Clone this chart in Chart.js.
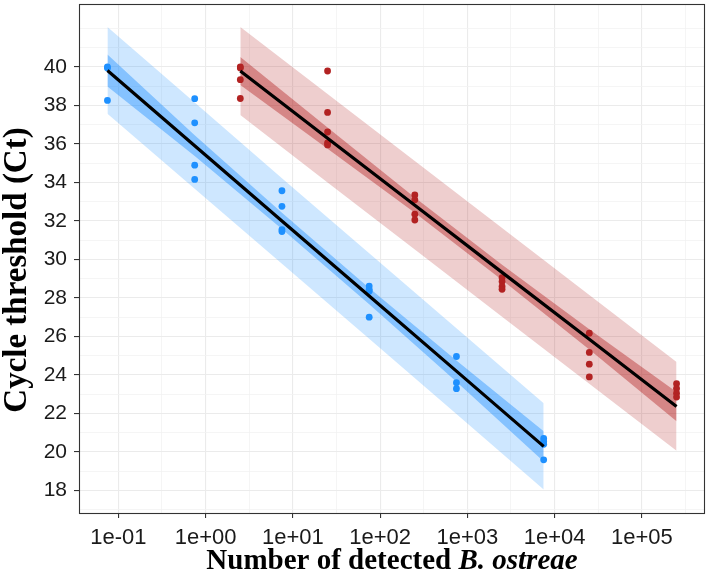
<!DOCTYPE html>
<html>
<head>
<meta charset="utf-8">
<script src="https://cdn.jsdelivr.net/npm/chart.js@4/dist/chart.umd.min.js"></script>
<style>
  body { margin: 0; background: #ffffff; }
</style>
</head>
<body>
<canvas id="chart" width="709" height="581"></canvas>
<script>
// concentrations used for the two standard curves
var blueConc = [0.075, 0.75, 7.5, 75, 750, 7500];
var redConc = [2.5, 25, 250, 2500, 25000, 250000];

// replicate Ct values (x, y pairs)
var blueX = [0.075, 0.075, 0.075, 0.75, 0.75, 0.75, 0.75, 7.5, 7.5, 7.5, 7.5,
  75, 75, 75, 75, 750, 750, 750, 7500, 7500, 7500, 7500];
var blueCt = [40.0, 39.95, 38.26, 38.35, 37.1, 34.9, 34.16, 33.57, 32.76, 31.55, 31.45,
  28.62, 28.45, 28.35, 27.0, 24.96, 23.6, 23.29, 20.7, 20.55, 20.4, 19.59];

var redX = [2.5, 2.5, 2.5, 2.5, 25, 25, 25, 25, 25, 250, 250, 250, 250,
  2500, 2500, 2500, 2500, 25000, 25000, 25000, 25000, 250000, 250000, 250000, 250000];
var redCt = [40.0, 39.95, 39.34, 38.36, 39.79, 37.64, 36.62, 36.05, 35.95, 33.35, 33.1, 32.35, 32.05,
  29.05, 28.85, 28.6, 28.45, 26.17, 25.17, 24.56, 23.9, 23.55, 23.3, 23.05, 22.85];

// fitted lines, confidence band, prediction band
var blueFit = [39.82, 35.91, 32.0, 28.1, 24.2, 20.29];
var blueCiHi = [40.65, 36.45, 32.42, 28.52, 24.75, 21.08];
var blueCiLo = [38.99, 35.37, 31.58, 27.68, 23.65, 19.50];
var bluePiHi = [42.07, 38.15, 34.22, 30.32, 26.43, 22.53];
var bluePiLo = [37.57, 33.67, 29.78, 25.88, 21.97, 18.05];

var redFit = [39.79, 36.30, 32.82, 29.33, 25.85, 22.36];
var redCiHi = [40.52, 36.85, 33.22, 29.73, 26.38, 23.12];
var redCiLo = [39.06, 35.75, 32.42, 28.93, 25.32, 21.60];
var redPiHi = [42.07, 38.6, 35.12, 31.63, 28.16, 24.68];
var redPiLo = [37.51, 34.0, 30.52, 27.03, 23.54, 20.06];

// axis ticks
var xMajor = [0.1, 1, 10, 100, 1000, 10000, 100000];
var xMinor = [0.316, 3.16, 31.6, 316, 3162, 31623, 316228];
var yMajor = [18, 20, 22, 24, 26, 28, 30, 32, 34, 36, 38, 40];
var yMinor = [17, 19, 21, 23, 25, 27, 29, 31, 33, 35, 37, 39, 41, 42];

function pairs(xs, ys) {
  var out = new Array();
  for (var i = 0; i < xs.length; i++) {
    out.push({x: xs[i], y: ys[i]});
  }
  return out;
}

function sciLabel(v) {
  var e = Math.round(Math.log10(v));
  var sign = e < 0 ? "-" : "+";
  var a = Math.abs(e);
  return "1e" + sign + (a < 10 ? "0" + a : "" + a);
}

function isMajorX(v) {
  return xMajor.indexOf(v) >= 0;
}

var BLUE = "#1E90FF";
var RED = "#B22222";

function band(data, fillTarget, color, order) {
  return {
    data: data,
    showLine: true,
    borderWidth: 0,
    borderColor: "rgba(0,0,0,0)",
    pointRadius: 0,
    backgroundColor: color,
    fill: fillTarget === null ? false : {target: fillTarget},
    order: order
  };
}

var datasets = [
  // 0,1 regression lines
  {data: pairs(blueConc, blueFit), showLine: true, borderColor: "#000000", borderWidth: 3.2, pointRadius: 0, order: 0},
  {data: pairs(redConc, redFit), showLine: true, borderColor: "#000000", borderWidth: 3.2, pointRadius: 0, order: 0},
  // 2,3 replicate points
  {data: pairs(blueX, blueCt), backgroundColor: BLUE, borderWidth: 0, pointRadius: 3.4, order: 1},
  {data: pairs(redX, redCt), backgroundColor: RED, borderWidth: 0, pointRadius: 3.4, order: 1},
  // 4,5 blue confidence band
  band(pairs(blueConc, blueCiHi), 5, "rgba(30,144,255,0.42)", 2),
  band(pairs(blueConc, blueCiLo), null, "rgba(0,0,0,0)", 2),
  // 6,7 blue prediction band
  band(pairs(blueConc, bluePiHi), 7, "rgba(30,144,255,0.22)", 3),
  band(pairs(blueConc, bluePiLo), null, "rgba(0,0,0,0)", 3),
  // 8,9 red confidence band
  band(pairs(redConc, redCiHi), 9, "rgba(178,34,34,0.42)", 2),
  band(pairs(redConc, redCiLo), null, "rgba(0,0,0,0)", 2),
  // 10,11 red prediction band
  band(pairs(redConc, redPiHi), 11, "rgba(178,34,34,0.22)", 3),
  band(pairs(redConc, redPiLo), null, "rgba(0,0,0,0)", 3)
];

// panel border + axis titles
var panelPlugin = {
  id: "panel",
  afterDraw: function(chart) {
    var ctx = chart.ctx;
    var a = chart.chartArea;
    ctx.save();
    ctx.strokeStyle = "#333333";
    ctx.lineWidth = 1.1;
    ctx.strokeRect(a.left + 0.5, a.top + 0.5, a.right - a.left - 1, a.bottom - a.top);

    // x title, bold with italic species name
    var part1 = "Number of detected ";
    var part2 = "B. ostreae";
    var f1 = "bold 29px 'Liberation Serif', 'Times New Roman', serif";
    var f2 = "italic bold 29px 'Liberation Serif', 'Times New Roman', serif";
    ctx.fillStyle = "#000000";
    ctx.textBaseline = "middle";
    ctx.font = f1;
    var w1 = ctx.measureText(part1).width;
    ctx.font = f2;
    var w2 = ctx.measureText(part2).width;
    var cx = (a.left + a.right) / 2;
    var x0 = cx - (w1 + w2) / 2;
    ctx.textAlign = "left";
    ctx.font = f1;
    ctx.fillText(part1, x0, 562);
    ctx.font = f2;
    ctx.fillText(part2, x0 + w1, 562);

    // y title
    ctx.translate(17, 270);
    ctx.rotate(-Math.PI / 2);
    ctx.textAlign = "center";
    ctx.font = "bold 33px 'Liberation Serif', 'Times New Roman', serif";
    ctx.fillText("Cycle threshold (Ct)", 0, 0);
    ctx.restore();
  }
};

new Chart(document.getElementById("chart"), {
  type: "scatter",
  data: {datasets: datasets},
  plugins: [panelPlugin],
  options: {
    responsive: false,
    animation: false,
    events: [],
    layout: {padding: {top: 1, right: 0, left: 0, bottom: 0}},
    plugins: {legend: {display: false}, tooltip: {enabled: false}},
    scales: {
      x: {
        type: "logarithmic",
        min: 0.0354,
        max: 529700,
        afterBuildTicks: function(scale) {
          scale.ticks = xMajor.concat(xMinor).sort(function(a, b) { return a - b; })
            .map(function(v) { return {value: v}; });
        },
        afterFit: function(scale) {
          scale.height = 68;
          scale.paddingLeft = 0;
          scale.paddingRight = 0;
        },
        border: {display: false},
        grid: {
          color: function(c) { return isMajorX(c.tick.value) ? "#EBEBEB" : "#F2F2F2"; },
          lineWidth: function(c) { return isMajorX(c.tick.value) ? 1.1 : 0.8; },
          tickColor: function(c) { return isMajorX(c.tick.value) ? "#333333" : "rgba(0,0,0,0)"; },
          tickLength: 5,
          tickWidth: 1.1
        },
        ticks: {
          autoSkip: false,
          maxRotation: 0,
          padding: 7,
          color: "#1a1a1a",
          font: {family: "'Liberation Sans', Arial, sans-serif", size: 22},
          callback: function(v) { return isMajorX(v) ? sciLabel(v) : ""; }
        }
      },
      y: {
        type: "linear",
        min: 16.83,
        max: 43.27,
        afterBuildTicks: function(scale) {
          scale.ticks = yMajor.concat(yMinor).sort(function(a, b) { return a - b; })
            .map(function(v) { return {value: v}; });
        },
        afterFit: function(scale) {
          scale.width = 79;
          scale.paddingTop = 0;
          scale.paddingBottom = 0;
        },
        border: {display: false},
        grid: {
          color: function(c) { return yMajor.indexOf(c.tick.value) >= 0 ? "#EBEBEB" : "#F2F2F2"; },
          lineWidth: function(c) { return yMajor.indexOf(c.tick.value) >= 0 ? 1.1 : 0.8; },
          tickColor: function(c) { return yMajor.indexOf(c.tick.value) >= 0 ? "#333333" : "rgba(0,0,0,0)"; },
          tickLength: 5,
          tickWidth: 1.1
        },
        ticks: {
          autoSkip: false,
          padding: 7,
          color: "#1a1a1a",
          font: {family: "'Liberation Sans', Arial, sans-serif", size: 21},
          callback: function(v) { return yMajor.indexOf(v) >= 0 ? "" + v : ""; }
        }
      }
    }
  }
});
</script>
</body>
</html>
